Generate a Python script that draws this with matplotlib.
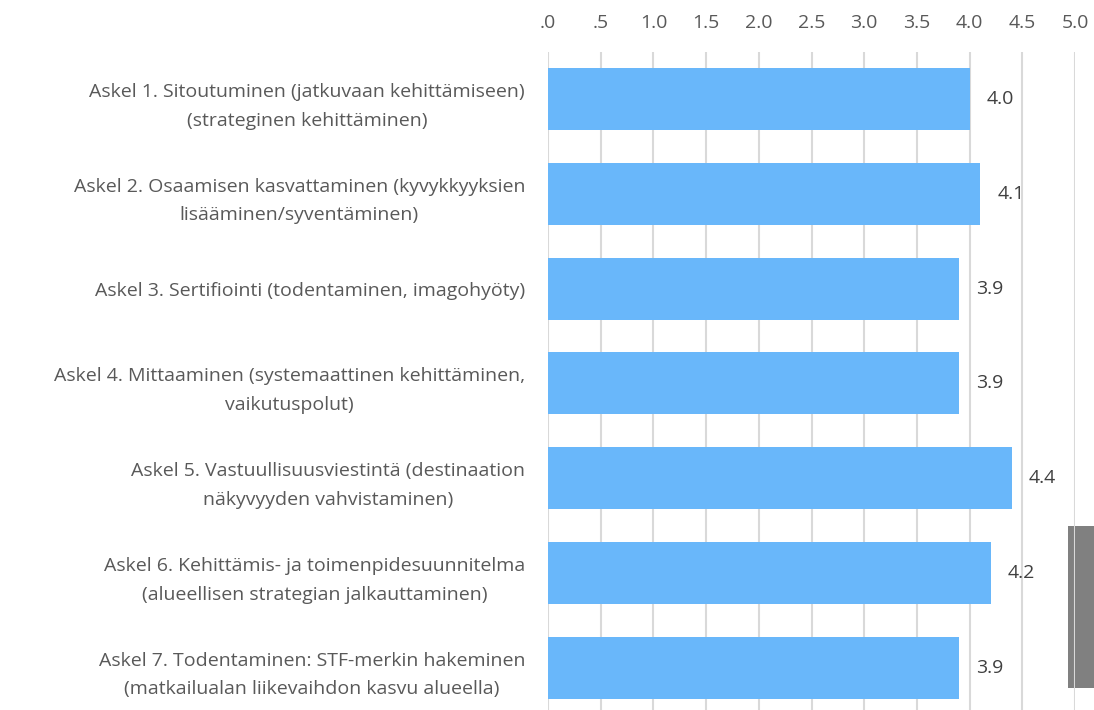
import matplotlib.pyplot as plt
from matplotlib.patches import Rectangle

categories = [
    "Askel 1. Sitoutuminen (jatkuvaan kehittämiseen)\n(strateginen kehittäminen)",
    "Askel 2. Osaamisen kasvattaminen (kyvykkyyksien\nlisääminen/syventäminen)",
    "Askel 3. Sertifiointi (todentaminen, imagohyöty)",
    "Askel 4. Mittaaminen (systemaattinen kehittäminen,\nvaikutuspolut)",
    "Askel 5. Vastuullisuusviestintä (destinaation\nnäkyvyyden vahvistaminen)",
    "Askel 6. Kehittämis- ja toimenpidesuunnitelma\n(alueellisen strategian jalkauttaminen)",
    "Askel 7. Todentaminen: STF-merkin hakeminen\n(matkailualan liikevaihdon kasvu alueella)",
]
values = [4.0, 4.1, 3.9, 3.9, 4.4, 4.2, 3.9]
ticks = [0, 0.5, 1.0, 1.5, 2.0, 2.5, 3.0, 3.5, 4.0, 4.5, 5.0]
tick_labels = [".0", ".5", "1.0", "1.5", "2.0", "2.5", "3.0", "3.5", "4.0", "4.5", "5.0"]

plt.rcParams['font.family'] = ['Open Sans', 'DejaVu Sans']

W, H = 1094, 710
fig = plt.figure(figsize=(W / 100, H / 100), dpi=100)
# slot height in pixels; the plot starts 51.6 px below the top edge and
# the last slot is cut by the bottom of the figure
slot = 94.8
top_px = 51.6
n = len(categories)
ax = fig.add_axes([548 / W, 0, 527 / W, (H - top_px) / H])

y = list(range(n))
ax.barh(y, values, height=0.655, color="#69B7FA", zorder=2)
ax.set_ylim(-0.5 + (H - top_px) / slot, -0.5)
ax.set_xlim(0, 5)

for yi, v in zip(y, values):
    ax.annotate(f"{v:.1f}", (v, yi), xytext=(12.5, 0), textcoords="offset points",
                ha="left", va="center", fontsize=14, color="#404040")

# x ticks only carry the gridlines; their labels are written above the plot
ax.set_xticks(ticks)
ax.tick_params(axis="x", length=0, labelbottom=False, labeltop=False,
               bottom=False, top=False)
for t, lab in zip(ticks, tick_labels):
    fig.text((548 + t * 527 / 5) / W, (H - 23) / H, lab, ha="center", va="center",
             fontsize=14, color="#595959")

ax.set_yticks(y, categories)
ax.tick_params(axis="y", length=0, pad=16.5, labelsize=14, labelcolor="#595959")
for lbl in ax.get_yticklabels():
    lbl.set_multialignment("center")
    lbl.set_linespacing(1.75)

ax.grid(axis="x", color="#D9D9D9", linewidth=1.5)
ax.set_axisbelow(True)
for s in ax.spines.values():
    s.set_visible(False)

# grey block at the right edge
ax.add_patch(Rectangle((1068 / W, (H - 688) / H), 26 / W, 162 / H,
                       transform=fig.transFigure, facecolor="#808080",
                       edgecolor="none", clip_on=False, zorder=0.3))

fig.savefig("out.png", dpi=100)
